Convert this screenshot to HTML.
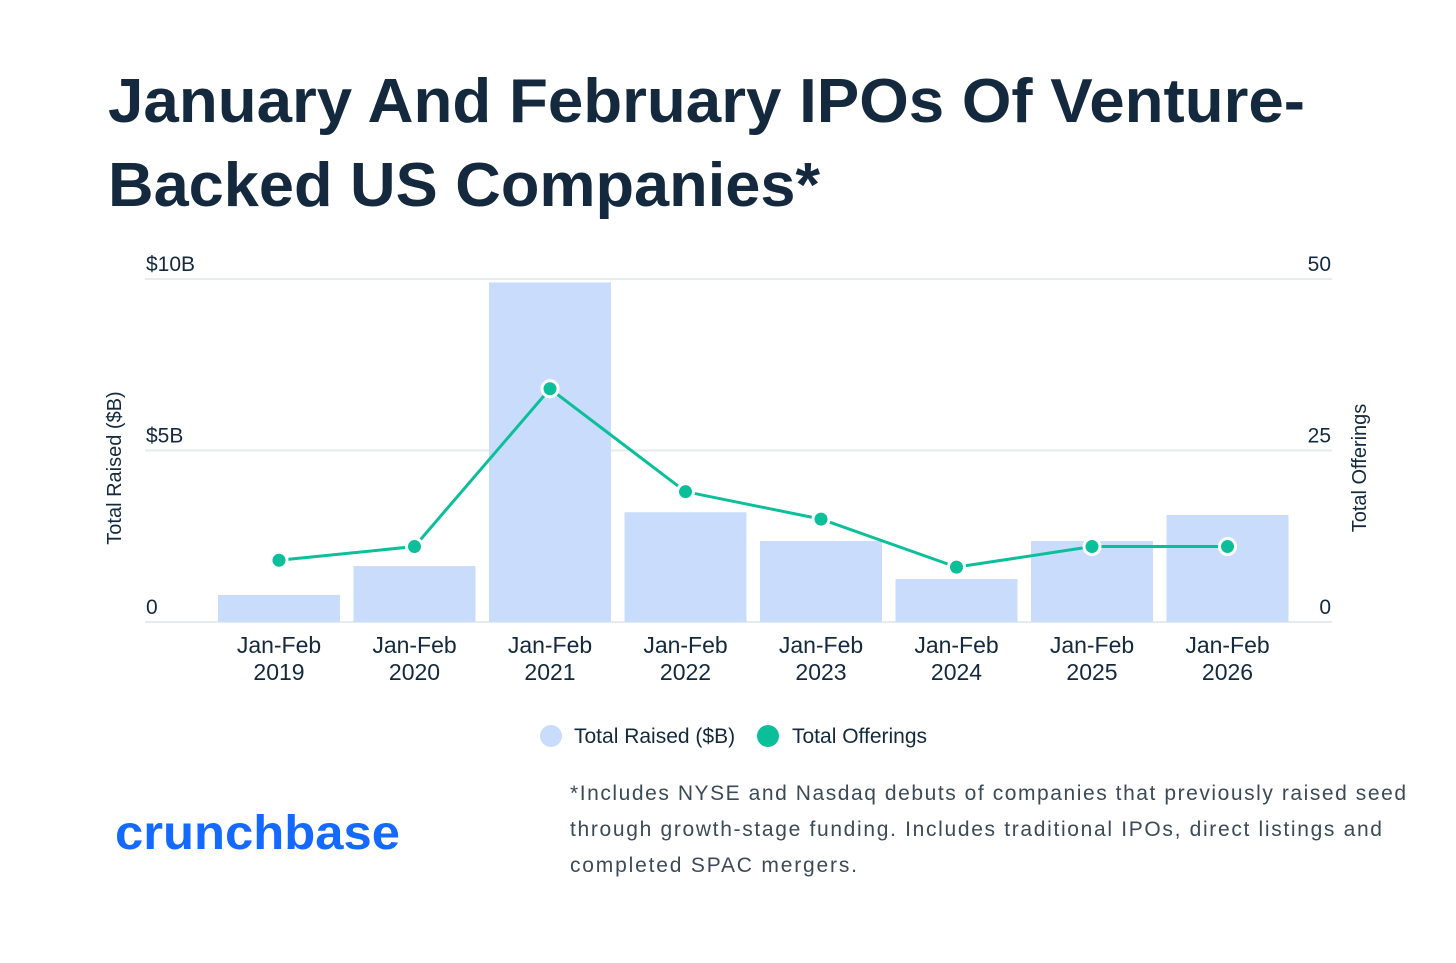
<!DOCTYPE html>
<html><head><meta charset="utf-8"><style>
body{margin:0;background:#fff;width:1456px;height:958px;overflow:hidden;font-family:"Liberation Sans",sans-serif;}
</style></head><body>
<svg width="1456" height="958" font-family="Liberation Sans, sans-serif">
<text x="108" y="122" font-size="62" font-weight="bold" fill="#14293d" textLength="1197" lengthAdjust="spacingAndGlyphs">January And February IPOs Of Venture-</text>
<text x="108" y="206" font-size="62" font-weight="bold" fill="#14293d" textLength="712" lengthAdjust="spacingAndGlyphs">Backed US Companies*</text>
<g id="grid"></g><g id="bars"></g><g id="line"></g><g id="axes"></g>
<text transform="translate(121,468) rotate(-90)" text-anchor="middle" font-size="20" fill="#14293d">Total Raised ($B)</text>
<text transform="translate(1366,468) rotate(-90)" text-anchor="middle" font-size="20" fill="#14293d">Total Offerings</text>
<g>
<circle cx="551" cy="736" r="11" fill="#c9dcfb"/>
<text x="574" y="743" font-size="21" fill="#14293d">Total Raised ($B)</text>
<circle cx="768" cy="736" r="11" fill="#0bbf9a"/>
<text x="792" y="743" font-size="21" fill="#14293d">Total Offerings</text>
</g>
<text x="115" y="849" font-size="48" font-weight="bold" fill="#146aff" textLength="285" lengthAdjust="spacingAndGlyphs">crunchbase</text>
<g font-size="21" fill="#3c4a57">
<text x="570" y="800" textLength="836">*Includes NYSE and Nasdaq debuts of companies that previously raised seed</text>
<text x="570" y="836" textLength="812">through growth-stage funding. Includes traditional IPOs, direct listings and</text>
<text x="570" y="872" textLength="287">completed SPAC mergers.</text>
</g>
</svg>
<script>
const categories=["Jan-Feb 2019","Jan-Feb 2020","Jan-Feb 2021","Jan-Feb 2022","Jan-Feb 2023","Jan-Feb 2024","Jan-Feb 2025","Jan-Feb 2026"];
const raised=[0.79,1.63,9.9,3.2,2.36,1.25,2.36,3.12];
const offerings=[9,11,34,19,15,8,11,11];
const leftTicks=[0,5,10];
const leftTickLabels=["0","$5B","$10B"];
const rightTicks=[0,25,50];
const NS="http://www.w3.org/2000/svg";
const y0=622,y1=279;
const yL=v=>y0-(v/10)*(y0-y1);
const yR=v=>y0-(v/50)*(y0-y1);
const xC=i=>279+i*135.5;
const bw=122;
function mk(tag,attrs,parent){const e=document.createElementNS(NS,tag);for(const k in attrs)e.setAttribute(k,attrs[k]);document.getElementById(parent).appendChild(e);return e;}
leftTicks.forEach((t,i)=>{
 const g=mk('line',{x1:145,x2:1332,y1:yL(t),y2:yL(t),stroke:'#e6ebee','stroke-width':2},'grid');
 
 
 const l=mk('text',{x:146,y:yL(t)-8,'font-size':21,fill:'#14293d'},'axes');l.textContent=leftTickLabels[i];
 
 
});
rightTicks.forEach(t=>{
 const l=mk('text',{x:1331,y:yR(t)-8,'font-size':21,fill:'#14293d','text-anchor':'end'},'axes');l.textContent=t;
 
 
});
categories.forEach((c,i)=>{
 const b=mk('rect',{x:xC(i)-bw/2,y:yL(raised[i]),width:bw,height:y0-yL(raised[i]),fill:'#c9dcfb'},'bars');
 
 
 const p=c.split(' ');
 const t=mk('text',{x:xC(i),y:653,'font-size':23,fill:'#14293d','text-anchor':'middle'},'axes');t.textContent=p[0];
 
 
 const t2=mk('text',{x:xC(i),y:680,'font-size':23,fill:'#14293d','text-anchor':'middle'},'axes');t2.textContent=p[1];
 
 
});
const pl=mk('polyline',{points:offerings.map((v,i)=>xC(i)+','+yR(v)).join(' '),fill:'none',stroke:'#0bbf9a','stroke-width':3},'line');


offerings.forEach((v,i)=>{
 const p=mk('circle',{cx:xC(i),cy:yR(v),r:8,fill:'#0bbf9a',stroke:'#fff','stroke-width':3},'line');
 
 
});
</script>
</body></html>
